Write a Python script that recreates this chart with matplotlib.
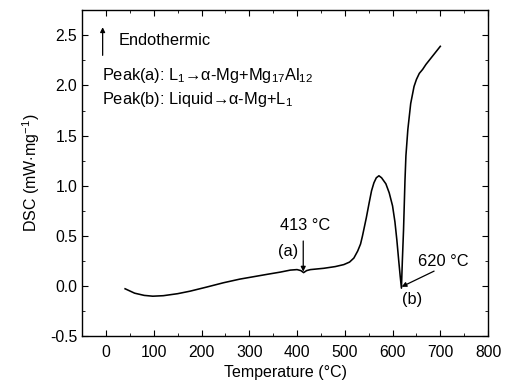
import numpy as np
import matplotlib
matplotlib.use('Agg')
import matplotlib.pyplot as plt
from matplotlib.ticker import MultipleLocator

plt.rcParams['font.family'] = ['Liberation Sans', 'DejaVu Sans']
plt.rcParams['mathtext.fontset'] = 'custom'
plt.rcParams['mathtext.rm'] = 'Liberation Sans'
plt.rcParams['mathtext.it'] = 'Liberation Sans:italic'
plt.rcParams['mathtext.default'] = 'rm'

# DSC curve
temp = [40, 60, 80, 98, 120, 150, 176, 210, 246, 280, 316, 340, 365, 386, 400,
        408, 413.8, 420, 428, 456, 480, 498, 510, 519, 527, 533, 537, 545, 551,
        556, 561, 566, 571.5, 577, 586, 593, 600, 605, 609, 613, 616, 618.6,
        620.5, 623, 626, 628, 632, 638, 645, 650, 656, 663, 670, 680, 690, 700]
dsc = [-0.026, -0.07, -0.092, -0.10, -0.095, -0.075, -0.05, -0.01, 0.034, 0.07,
       0.10, 0.12, 0.14, 0.16, 0.165, 0.155, 0.135, 0.155, 0.165, 0.178, 0.195,
       0.215, 0.24, 0.28, 0.35, 0.42, 0.50, 0.68, 0.83, 0.95, 1.03, 1.08, 1.10,
       1.08, 1.02, 0.93, 0.80, 0.64, 0.46, 0.25, 0.10, -0.02, 0.25, 0.56, 1.05,
       1.30, 1.56, 1.82, 1.99, 2.06, 2.12, 2.16, 2.21, 2.27, 2.33, 2.39]

x_ticks = [0, 100, 200, 300, 400, 500, 600, 700, 800]
y_ticks = [-0.5, 0.0, 0.5, 1.0, 1.5, 2.0, 2.5]

fig = plt.figure(figsize=(5.1, 3.92), dpi=100)
ax = fig.add_axes([0.161, 0.142, 0.796, 0.832])

ax.plot(temp, dsc, color='black', linewidth=1.15)

ax.set_xlim(-50, 800)
ax.set_ylim(-0.5, 2.75)
ax.set_xticks(x_ticks)
ax.set_yticks(y_ticks)
ax.set_yticklabels(['-0.5', '0.0', '0.5', '1.0', '1.5', '2.0', '2.5'])
ax.xaxis.set_minor_locator(MultipleLocator(50))
ax.yaxis.set_minor_locator(MultipleLocator(0.25))
ax.tick_params(which='both', direction='in', top=True, right=True, labelsize=11.3)
ax.tick_params(which='major', length=4)
ax.tick_params(which='minor', length=2.5)
ax.tick_params(axis='x', pad=6)
for spine in ax.spines.values():
    spine.set_linewidth(1.0)

ax.set_xlabel('Temperature (°C)', fontsize=11.5, labelpad=4)
ax.set_ylabel('DSC (mW$\\cdot$mg$^{-1}$)', fontsize=11.5, labelpad=6)

fs = 11.8
arrow = dict(arrowstyle='-|>', color='black', lw=0.9, mutation_scale=7,
             shrinkA=0, shrinkB=0)

# notes
ax.annotate('', xy=(-7, 2.58), xytext=(-7, 2.30), arrowprops=arrow)
ax.text(26, 2.445, 'Endothermic', fontsize=fs, va='center', ha='left')
ax.text(-9, 2.10, 'Peak(a): L$_1$→α-Mg+Mg$_{17}$Al$_{12}$',
        fontsize=fs, va='center', ha='left')
ax.text(-9, 1.86, 'Peak(b): Liquid→α-Mg+L$_1$',
        fontsize=fs, va='center', ha='left')

# peak (a)
ax.annotate('', xy=(413, 0.145), xytext=(413, 0.45), arrowprops=arrow)
ax.text(417, 0.60, '413 °C', fontsize=fs, ha='center', va='center')
ax.text(381, 0.35, '(a)', fontsize=fs, ha='center', va='center')

# peak (b)
ax.annotate('', xy=(619, -0.006), xytext=(687, 0.15), arrowprops=arrow)
ax.text(706, 0.243, '620 °C', fontsize=fs, ha='center', va='center')
ax.text(640, -0.135, '(b)', fontsize=fs, ha='center', va='center')

fig.savefig('out.png', dpi=100)
